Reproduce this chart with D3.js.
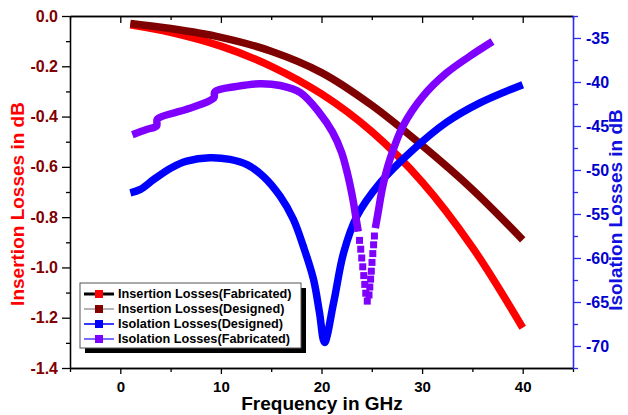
<!DOCTYPE html>
<html lang="en">
    <head>
        <meta charset="utf-8">
        <title>Insertion and Isolation Losses</title>
        <script src="https://d3js.org/d3.v7.min.js"></script>
        <style type="text/css">
            body { margin: 0; background: #fff; }
            text { font-family: "Liberation Sans", Arial, sans-serif; font-weight: bold; }
        </style>
    </head>
    <body>
        <script type="text/javascript">

            const w = 628;
            const h = 415;

            // data
            const insFabFreq = [1, 5, 10, 15, 20, 25, 30, 35, 40];
            const insFabLoss = [-0.035, -0.065, -0.12, -0.20, -0.31, -0.46, -0.66, -0.92, -1.24];

            const insDesFreq = [1, 5, 10, 15, 20, 25, 30, 35, 40];
            const insDesLoss = [-0.03, -0.05, -0.085, -0.14, -0.225, -0.355, -0.515, -0.69, -0.89];

            const isoDesFreq = [1, 2, 3.3, 5, 6.6, 8.9, 10.9, 12.6, 14.2, 15.9, 17.2, 18.2, 19.2, 19.8, 20.3,
                                21.2, 22.2, 23.5, 25.8, 29.1, 32.4, 35.7, 40];
            const isoDesLoss = [-52.6, -52.2, -51.1, -49.8, -49.0, -48.6, -48.8, -49.4, -50.7, -53.0, -55.6, -58.7, -62.4, -66.2, -69.6,
                                -65.1, -59.4, -55.3, -51.5, -47.7, -44.6, -42.4, -40.3];

            // fabricated isolation: left branch, dip (separate squares), right branch
            const isoFabLeftFreq = [1.2, 2.6, 3.6, 3.7, 6.6, 9.3, 9.4, 11.6, 13.9, 15.9, 17.9, 19.8, 21.1, 22.0, 22.6, 23.1, 23.45, 23.65];
            const isoFabLeftLoss = [-46.0, -45.4, -45.0, -44.2, -43.1, -41.8, -41.1, -40.5, -40.2, -40.4, -41.2, -43.5, -45.7, -48.0, -50.5, -53.2, -55.6, -57.0];
            const isoFabDipFreq = [23.78, 23.9, 24.0, 24.1, 24.2, 24.3, 24.4, 24.55,
                                   24.72, 24.8, 24.88, 24.95, 25.02, 25.1, 25.18, 25.26];
            const isoFabDipLoss = [-58.0, -59.0, -60.0, -61.0, -62.0, -63.0, -64.0, -64.9,
                                   -64.2, -63.3, -62.4, -61.5, -60.5, -59.5, -58.5, -57.5];
            const isoFabRightFreq = [25.35, 25.6, 26.1, 26.8, 28.1, 30.1, 32.4, 34.7, 37.0];
            const isoFabRightLoss = [-56.6, -55.0, -51.8, -48.8, -45.0, -41.6, -39.0, -37.1, -35.4];

            const xTicks = [0, 10, 20, 30, 40];
            const xMinor = [-5, 5, 15, 25, 35, 45];
            const leftTicks = [0.0, -0.2, -0.4, -0.6, -0.8, -1.0, -1.2, -1.4];
            const leftMinor = [-0.1, -0.3, -0.5, -0.7, -0.9, -1.1, -1.3];
            const rightTicks = [-35, -40, -45, -50, -55, -60, -65, -70];
            const rightMinor = [-32.5, -37.5, -42.5, -47.5, -52.5, -57.5, -62.5, -67.5, -72.5];

            const legendLabels = ["Insertion Losses(Fabricated)", "Insertion Losses(Designed)",
                                  "Isolation Losses(Designed)", "Isolation Losses(Fabricated)"];
            const legendLineColors = ["#000000", "#b4b4b4", "#3a3aff", "#7a6cff"];
            const legendMarkColors = ["#ff0000", "#800000", "#0000ff", "#8000ff"];

            const pLeft = 70, pRight = 573, pTop = 16, pBottom = 368;

            const xScale = d3.scaleLinear().domain([-5, 45]).range([pLeft, pRight]);
            const yLeft = d3.scaleLinear().domain([-1.4, 0]).range([pBottom, pTop]);
            const yRight = d3.scaleLinear().domain([-72.5, -32.5]).range([pBottom, pTop]);

            const svg = d3.select("body")
                          .append("svg")
                          .attr("width", w)
                          .attr("height", h);

            const zip = (a, b) => a.map((d, i) => [d, b[i]]);

            const lineL = d3.line()
                            .x(d => xScale(d[0]))
                            .y(d => yLeft(d[1]))
                            .curve(d3.curveCatmullRom.alpha(0.5));
            const lineR = d3.line()
                            .x(d => xScale(d[0]))
                            .y(d => yRight(d[1]))
                            .curve(d3.curveCatmullRom.alpha(0.5));

            const curves = [
                {data: zip(insFabFreq, insFabLoss), gen: lineL, color: "#ff0000"},
                {data: zip(insDesFreq, insDesLoss), gen: lineL, color: "#7f0000"},
                {data: zip(isoDesFreq, isoDesLoss), gen: lineR, color: "#0000ff"},
                {data: zip(isoFabLeftFreq, isoFabLeftLoss), gen: lineR, color: "#8000ff"},
                {data: zip(isoFabRightFreq, isoFabRightLoss), gen: lineR, color: "#8000ff"}
            ];

            svg.selectAll("path.curve")
               .data(curves)
               .enter()
               .append("path")
               .attr("class", "curve")
               .attr("d", d => d.gen(d.data))
               .attr("fill", "none")
               .attr("stroke", d => d.color)
               .attr("stroke-width", 7.5)
               .attr("stroke-linejoin", "round");

            svg.selectAll("rect.dip")
               .data(zip(isoFabDipFreq, isoFabDipLoss))
               .enter()
               .append("rect")
               .attr("class", "dip")
               .attr("x", d => xScale(d[0]) - 3.5)
               .attr("y", d => yRight(d[1]) - 3.5)
               .attr("width", 7)
               .attr("height", 7)
               .attr("fill", "#8000ff");

            // axes
            function styleAxis(g, color, size) {
                g.select(".domain").attr("stroke", color).attr("stroke-width", 1.3);
                g.selectAll(".tick line").attr("stroke", color).attr("stroke-width", 1.3);
                g.selectAll(".tick text").attr("fill", color).style("font-size", size + "px");
            }

            const gBottom = svg.append("g")
               .attr("transform", "translate(0," + pBottom + ")")
               .call(d3.axisBottom(xScale).tickValues(xTicks).tickSize(6).tickSizeOuter(0).tickPadding(7));
            styleAxis(gBottom, "#000", 15);
            svg.append("g")
               .attr("transform", "translate(0," + pBottom + ")")
               .call(d3.axisBottom(xScale).tickValues(xMinor).tickSize(4).tickSizeOuter(0).tickFormat(""))
               .call(g => styleAxis(g, "#000", 15));

            const gTop = svg.append("g")
               .attr("transform", "translate(0," + pTop + ")")
               .call(d3.axisTop(xScale).tickValues(xTicks).tickSize(-7).tickSizeOuter(0).tickFormat(""));
            styleAxis(gTop, "#000", 15);
            svg.append("g")
               .attr("transform", "translate(0," + pTop + ")")
               .call(d3.axisTop(xScale).tickValues(xMinor).tickSize(-4).tickSizeOuter(0).tickFormat(""))
               .call(g => styleAxis(g, "#000", 15));

            const gLeft = svg.append("g")
               .attr("transform", "translate(" + pLeft + ",0)")
               .call(d3.axisLeft(yLeft).tickValues(leftTicks).tickSize(8).tickSizeOuter(0).tickPadding(4)
                       .tickFormat(d => d.toFixed(1)));
            styleAxis(gLeft, "#000", 16);
            gLeft.selectAll(".tick text").attr("fill", "#800000");
            svg.append("g")
               .attr("transform", "translate(" + pLeft + ",0)")
               .call(d3.axisLeft(yLeft).tickValues(leftMinor).tickSize(4).tickSizeOuter(0).tickFormat(""))
               .call(g => styleAxis(g, "#000", 16));

            const gRight = svg.append("g")
               .attr("transform", "translate(" + pRight + ",0)")
               .call(d3.axisRight(yRight).tickValues(rightTicks).tickSize(8).tickSizeOuter(0).tickPadding(5)
                       .tickFormat(d => String(d)));
            styleAxis(gRight, "#2a2aff", 16);
            gRight.selectAll(".tick text").attr("fill", "#0000cc");
            svg.append("g")
               .attr("transform", "translate(" + pRight + ",0)")
               .call(d3.axisRight(yRight).tickValues(rightMinor).tickSize(5).tickSizeOuter(0).tickFormat(""))
               .call(g => styleAxis(g, "#2a2aff", 16));

            // titles
            svg.append("text")
               .attr("x", (pLeft + pRight) / 2 + 0.5)
               .attr("y", 410)
               .attr("text-anchor", "middle")
               .style("font-size", "19px")
               .attr("fill", "#000")
               .text("Frequency in GHz");

            svg.append("text")
               .attr("transform", "translate(24,204) rotate(-90)")
               .attr("text-anchor", "middle")
               .style("font-size", "19px")
               .attr("fill", "#ff0000")
               .text("Insertion Losses in dB");

            svg.append("text")
               .attr("transform", "translate(622,210) rotate(-90)")
               .attr("text-anchor", "middle")
               .style("font-size", "19px")
               .attr("fill", "#1010e0")
               .text("Isolation Losses in dB");

            // legend
            const lg = svg.append("g").attr("class", "legend");
            lg.append("rect")
              .attr("x", 85).attr("y", 288)
              .attr("width", 221).attr("height", 65)
              .attr("fill", "#000");
            lg.append("rect")
              .attr("x", 80).attr("y", 283)
              .attr("width", 221).attr("height", 65)
              .attr("fill", "#fff")
              .attr("stroke", "#555")
              .attr("stroke-width", 1);

            const items = lg.selectAll("g.item")
                            .data(legendLabels)
                            .enter().append("g")
                            .attr("class", "item")
                            .attr("transform", (d, i) => `translate(0,${294 + i * 15})`);

            items.append("line")
                 .attr("x1", 84).attr("x2", 114)
                 .attr("stroke", (d, i) => legendLineColors[i])
                 .attr("stroke-width", (d, i) => i === 0 ? 3 : 2);

            items.append("rect")
                 .attr("x", 95).attr("y", -4)
                 .attr("width", 8).attr("height", 8)
                 .attr("fill", (d, i) => legendMarkColors[i]);

            items.append("text")
                 .attr("x", 118)
                 .attr("dy", ".35em")
                 .style("font-size", "12.7px")
                 .attr("fill", "#000")
                 .text(d => d);

        </script>
    </body>
</html>
